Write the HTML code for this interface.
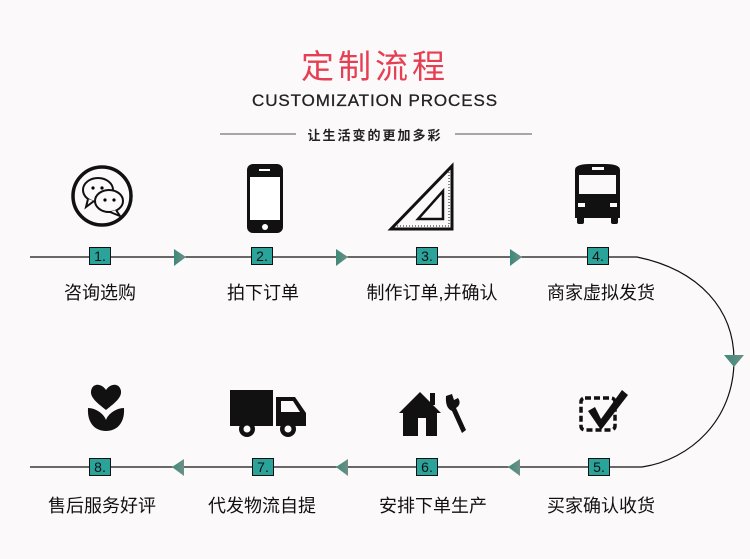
<!DOCTYPE html>
<html><head><meta charset="utf-8"><style>
html,body{margin:0;padding:0;background:#fcf9fa;}
body{width:750px;height:559px;position:relative;overflow:hidden;font-family:"Liberation Sans","Noto Sans CJK SC",sans-serif;}
.t{position:absolute;white-space:nowrap;}
.lab{position:absolute;font-size:18px;color:#111;transform:translateX(-50%);top:279px;white-space:nowrap;}
.num{position:absolute;width:20px;height:16px;background:#2aa39a;border:1px solid #111;font-size:14px;line-height:16px;text-align:center;color:#111;font-family:"Liberation Sans Narrow","Liberation Sans",sans-serif;}
</style></head><body>
<div class="t" style="left:0;width:750px;text-align:center;top:40px;font-size:33px;color:#e43f52;letter-spacing:4px;font-family:'Noto Sans CJK SC',sans-serif;">定制流程</div>
<div class="t" style="left:0;width:750px;text-align:center;top:91px;font-size:17px;color:#222;letter-spacing:0.9px;-webkit-text-stroke:0.3px #222;">CUSTOMIZATION PROCESS</div>
<div class="t" style="left:0;width:750px;text-align:center;top:125px;font-size:13px;font-weight:bold;color:#222;letter-spacing:2px;font-family:'Noto Sans CJK SC',sans-serif;">让生活变的更加多彩</div>

<svg width="750" height="559" style="position:absolute;left:0;top:0">
<defs><linearGradient id="g" x1="0" x2="1"><stop offset="0" stop-color="#3d8a7a"/><stop offset="1" stop-color="#6f8f86"/></linearGradient></defs>
<line x1="220" y1="134" x2="296" y2="134" stroke="#555" stroke-width="1"/>
<line x1="455" y1="134" x2="532" y2="134" stroke="#555" stroke-width="1"/>
<line x1="30" y1="257" x2="637" y2="257" stroke="#111" stroke-width="1.2"/>
<line x1="30" y1="467" x2="642" y2="467" stroke="#111" stroke-width="1.2"/>
<path d="M637 257 C700 270 734 310 734 360 C734 420 690 460 642 467" fill="none" stroke="#111" stroke-width="1.2"/>
<polygon points="724,355 744,355 734,367" fill="url(#g)"/>
<polygon points="174,249 186,257 174,266" fill="url(#g)"/>
<polygon points="336,249 348,257 336,266" fill="url(#g)"/>
<polygon points="510,249 522,257 510,266" fill="url(#g)"/>
<polygon points="184,459 172,467 184,476" fill="url(#g)"/>
<polygon points="348,459 336,467 348,476" fill="url(#g)"/>
<polygon points="520,459 508,467 520,476" fill="url(#g)"/>
<!-- icon1 wechat -->
<circle cx="102" cy="196" r="29" fill="none" stroke="#111" stroke-width="3.5"/>
<ellipse cx="98" cy="190" rx="15" ry="12" fill="none" stroke="#111" stroke-width="2"/>
<path d="M88 199 L86 207 L94 201" fill="#fcf9fa" stroke="#111" stroke-width="2"/>
<ellipse cx="109" cy="201" rx="14" ry="11" fill="#fcf9fa" stroke="#111" stroke-width="2"/>
<path d="M116 210 L120 216 L110 212" fill="#fcf9fa" stroke="#111" stroke-width="2"/>
<circle cx="93" cy="188" r="1.6"/><circle cx="102" cy="188" r="1.6"/><circle cx="105" cy="200" r="1.6"/><circle cx="114" cy="200" r="1.6"/>
<!-- icon2 phone -->
<rect x="247" y="164" width="36" height="69" rx="6" fill="#111"/>
<rect x="250" y="177" width="30" height="43" fill="#fff"/>
<rect x="259" y="169" width="11" height="2" fill="#fff"/>
<circle cx="265" cy="227" r="3" fill="#fff"/>
<!-- icon3 set square -->
<polygon points="452,166 452,229 391,229" fill="none" stroke="#111" stroke-width="3"/>
<polygon points="443,191 443,219 418,219" fill="none" stroke="#111" stroke-width="2.5"/>
<line x1="397" y1="226" x2="449" y2="226" stroke="#111" stroke-dasharray="1 2"/>
<line x1="449" y1="172" x2="449" y2="226" stroke="#111" stroke-dasharray="1 2"/>
<!-- icon4 bus -->
<path d="M575 170 Q575 164 590 164 L605 164 Q620 164 620 170 L620 218 L575 218 Z" fill="#111"/>
<rect x="579" y="175" width="37" height="19" fill="#fcf9fa"/>
<rect x="592" y="167" width="12" height="3" fill="#fcf9fa"/>
<rect x="578" y="203" width="7" height="4" fill="#fcf9fa"/><rect x="610" y="203" width="7" height="4" fill="#fcf9fa"/>
<rect x="577" y="216" width="7" height="8" rx="2" fill="#111"/><rect x="611" y="216" width="7" height="8" rx="2" fill="#111"/>
<!-- icon8 flower -->
<path d="M106 410 C96 402 88 396 92 388 C95 383 102 384 106 390 C110 384 117 383 120 388 C124 396 116 402 106 410 Z" fill="#111"/>
<path d="M88 408 C96 408 104 414 106 420 C108 414 116 408 124 408 C125 424 116 431 106 431 C96 431 87 424 88 408 Z" fill="#111"/>
<!-- icon7 truck -->
<rect x="230" y="390" width="43" height="36" fill="#111"/>
<path d="M276 397 L295 397 L306 413 L306 426 L276 426 Z" fill="#111"/>
<path d="M281 401 L293 401 L300 412 L281 412 Z" fill="#fcf9fa"/>
<circle cx="247" cy="429" r="8" fill="#111"/><circle cx="247" cy="429" r="3.5" fill="#fcf9fa"/>
<circle cx="288" cy="429" r="8" fill="#111"/><circle cx="288" cy="429" r="3.5" fill="#fcf9fa"/>
<!-- icon6 house wrench -->
<polygon points="399,413 420,392 441,413" fill="#111"/>
<rect x="403" y="410" width="34" height="26" fill="#111"/>
<rect x="418" y="418" width="8" height="18" fill="#fcf9fa"/>
<rect x="430" y="393" width="5" height="12" fill="#111"/>
<path d="M446 396 L452 394 L454 400 L458 398 Q462 404 456 408 L466 430 L462 433 L452 411 Q445 408 446 396 Z" fill="#111"/>
<!-- icon5 checkbox -->
<rect x="581" y="398" width="34" height="32" rx="4" fill="none" stroke="#111" stroke-width="3.5" stroke-dasharray="6 3"/>
<path d="M588 411 L595 407 L601 419 L622 390 L628 395 L601 430 Z" fill="#111"/>
</svg>

<div class="num" style="left:89px;top:247px">1.</div>
<div class="num" style="left:251px;top:247px">2.</div>
<div class="num" style="left:416px;top:247px">3.</div>
<div class="num" style="left:587px;top:247px">4.</div>
<div class="num" style="left:89px;top:458px">8.</div>
<div class="num" style="left:252px;top:458px">7.</div>
<div class="num" style="left:416px;top:458px">6.</div>
<div class="num" style="left:588px;top:458px">5.</div>

<div class="lab" style="left:100px">咨询选购</div>
<div class="lab" style="left:263px">拍下订单</div>
<div class="lab" style="left:432px">制作订单,并确认</div>
<div class="lab" style="left:601px">商家虚拟发货</div>
<div class="lab" style="left:102px;top:492px">售后服务好评</div>
<div class="lab" style="left:262px;top:492px">代发物流自提</div>
<div class="lab" style="left:433px;top:492px">安排下单生产</div>
<div class="lab" style="left:601px;top:492px">买家确认收货</div>
</body></html>
